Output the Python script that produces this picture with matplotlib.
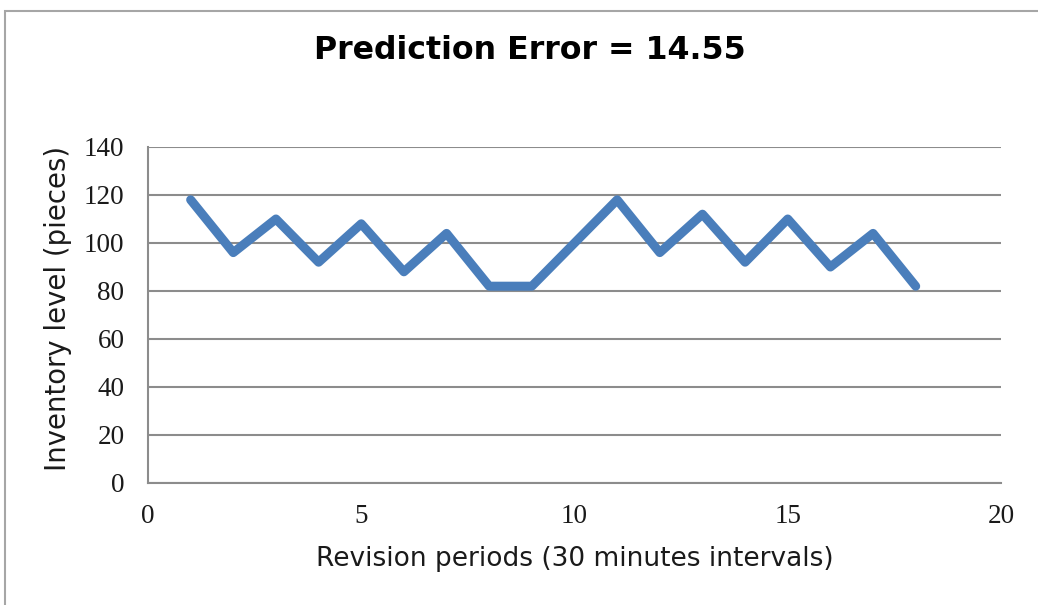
import matplotlib
matplotlib.use("Agg")
import matplotlib.pyplot as plt
from matplotlib.patches import Rectangle

periods = [1, 2, 3, 4, 5, 6, 7, 8, 9, 10, 11, 12, 13, 14, 15, 16, 17, 18]
inventory = [118, 96, 110, 92, 108, 88, 104, 82, 82, 100, 118, 96, 112, 92, 110, 90, 104, 82]
x_ticks = [0, 5, 10, 15, 20]
y_ticks = [0, 20, 40, 60, 80, 100, 120, 140]
title = "Prediction Error = 14.55"
x_label = "Revision periods (30 minutes intervals)"
y_label = "Inventory level (pieces)"

W, H = 1038, 605
fig = plt.figure(figsize=(W / 100, H / 100), dpi=100)
fig.patch.set_facecolor("white")

# outer chart border (extends beyond right/bottom edge)
fig.patches.append(Rectangle((5 / W, -0.1), 1.2, (H - 11) / H + 0.1,
                             transform=fig.transFigure, fill=False,
                             edgecolor="#a6a6a6", linewidth=1.5))

ax = fig.add_axes([148 / W, 1 - 483 / H, (1001 - 148) / W, (483 - 147) / H])
ax.plot(periods, inventory, color="#4A7EBB", linewidth=6.5,
        solid_joinstyle="round", solid_capstyle="round", zorder=3)

ax.set_xlim(0, 20)
ax.set_ylim(0, 140)
ax.set_xticks(x_ticks)
ax.set_yticks(y_ticks)
ax.yaxis.grid(True, color="#8c8c8c", linewidth=1.5)
ax.set_axisbelow(True)
for s in ["top", "right"]:
    ax.spines[s].set_visible(False)
for s in ["left", "bottom"]:
    ax.spines[s].set_color("#8c8c8c")
    ax.spines[s].set_linewidth(1.5)
ax.tick_params(axis="y", length=0, pad=17)
ax.tick_params(axis="x", length=0, pad=15)
for lab in ax.get_xticklabels() + ax.get_yticklabels():
    lab.set_fontfamily("Liberation Serif")
    lab.set_fontsize(19.5)
    lab.set_color("#1a1a1a")

fig.text(530 / W, 1 - 59 / H, title, ha="center", va="baseline",
         fontsize=22.8, fontweight="bold", family="DejaVu Sans")
fig.text(575 / W, 1 - 566 / H, x_label, ha="center", va="baseline",
         fontsize=19, family="DejaVu Sans", color="#1a1a1a")
fig.text(58 / W, 1 - 308 / H, y_label, ha="center", va="center",
         rotation=90, fontsize=19.8, family="DejaVu Sans", color="#1a1a1a")

fig.savefig("out.png", dpi=100)
